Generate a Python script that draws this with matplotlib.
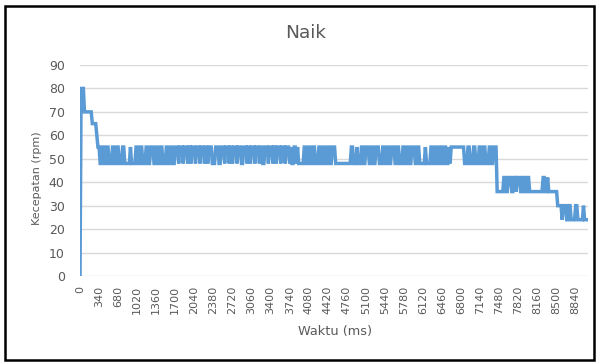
import numpy as np
import matplotlib
matplotlib.use("Agg")
import matplotlib.pyplot as plt
from matplotlib.patches import Rectangle

plt.rcParams['font.family'] = ['DejaVu Sans']

# Speed readings, run-length encoded as (rpm, number of consecutive 20 ms samples)
start_runs = [(0, 1), (80, 3), (70, 7), (65, 4), (60, 1), (55, 2)]

band_55_runs = [
    (48, 2), (55, 2), (48, 2), (55, 2), (48, 3), (55, 2), (48, 2), (55, 2), (48, 3), (55, 2),
    (48, 5), (55, 1), (48, 4),
    (55, 2), (48, 2), (55, 2), (48, 3), (55, 2), (48, 2), (55, 3), (48, 2), (55, 2),
    (48, 2), (55, 2), (48, 3), (55, 2), (48, 2), (55, 2), (48, 2), (55, 3),
    (48, 1), (55, 3), (48, 1), (55, 3), (48, 1), (55, 2), (48, 1), (55, 3),
    (48, 1), (55, 3), (48, 1), (55, 3), (48, 1), (55, 2), (48, 1), (55, 3),
    (48, 3), (55, 3), (48, 2),
    (55, 1), (55, 2), (48, 1), (55, 3), (48, 1), (55, 2), (48, 1), (55, 3),
    (48, 1), (55, 3), (48, 2), (55, 3), (48, 1), (55, 2), (48, 1), (55, 3),
    (48, 1), (55, 3), (48, 1), (55, 2), (48, 2), (55, 3), (48, 1), (55, 3),
    (48, 1), (55, 2), (48, 1), (55, 3), (48, 1), (55, 3), (48, 1), (55, 3),
    (48, 1), (55, 1),
    (48, 2), (55, 2), (48, 1), (55, 1), (48, 5), (55, 2), (48, 2), (55, 2),
    (48, 2), (55, 2), (48, 3), (55, 2), (48, 2), (55, 2), (48, 2), (55, 2),
    (48, 2), (55, 3),
    (48, 14),
    (55, 2), (48, 3), (55, 1), (48, 3), (55, 2), (48, 2), (55, 3), (48, 2),
    (55, 2), (48, 2), (55, 3), (48, 3), (55, 2), (48, 2), (55, 2), (48, 2),
    (55, 3), (48, 2), (55, 2), (48, 3), (55, 2), (48, 2), (55, 2), (48, 2),
    (55, 3), (48, 2), (55, 2),
    (48, 5), (55, 1), (48, 4),
    (55, 2), (48, 2), (55, 2), (48, 2), (55, 2), (48, 2), (55, 2), (48, 2),
    (55, 1), (48, 1),
    (55, 12),
    (48, 3), (55, 2), (48, 3), (55, 2), (48, 3), (55, 2), (48, 2), (55, 2),
    (48, 3), (55, 2), (48, 2), (55, 3),
]

band_42_runs = [
    (36, 6), (42, 2), (36, 2), (42, 3), (36, 2), (42, 2), (36, 1), (42, 3),
    (36, 2), (42, 2), (36, 2), (42, 2), (36, 12), (42, 2), (36, 2), (42, 1),
    (36, 8),
]

band_30_runs = [
    (30, 4), (24, 1), (30, 3), (24, 2), (30, 2), (24, 4), (30, 2), (24, 5),
    (30, 1), (24, 4),
]

step_ms = 20
runs = start_runs + band_55_runs + band_42_runs + band_30_runs
levels = [r[0] for r in runs]
counts = [r[1] for r in runs]
rpm = np.repeat(levels, counts)
time_ms = np.arange(len(rpm)) * step_ms

tick_values = list(range(0, 8841, 340))
tick_labels = [str(v) for v in tick_values]
y_ticks = list(range(0, 91, 10))

W, H = 598, 363
fig = plt.figure(figsize=(W / 100, H / 100), dpi=100)
ax = fig.add_axes([80 / W, 1 - 276 / H, 508 / W, 211 / H])

ax.plot(time_ms, rpm, color='#5B9BD5', linewidth=2.5, solid_joinstyle='miter')

ax.set_xlim(0, time_ms[-1])
ax.set_ylim(0, 90)
ax.set_yticks(y_ticks)
ax.set_xticks(tick_values)
ax.set_xticklabels(tick_labels, rotation=90, va='top', ha='center')
ax.tick_params(axis='both', length=0, colors='#595959')
ax.tick_params(axis='x', pad=7, labelsize=8)
ax.tick_params(axis='y', pad=11, labelsize=9)
ax.grid(axis='y', color='#D9D9D9', linewidth=1)
ax.set_axisbelow(True)
for s in ax.spines.values():
    s.set_visible(False)

text_col = '#595959'
fig.text(306 / W, 1 - 33 / H, 'Naik', ha='center', va='center',
         fontsize=13.3, color=text_col)
fig.text(37.5 / W, 1 - 178 / H, 'Kecepatan (rpm)', ha='center', va='center',
         rotation=90, fontsize=8, color=text_col)
fig.text(335 / W, 1 - 332 / H, 'Waktu (ms)', ha='center', va='center',
         fontsize=9.3, color=text_col)

# black frame around the whole chart
fig.patches.append(Rectangle((5 / W, 1 - 360 / H), 589 / W, 354 / H,
                             transform=fig.transFigure, fill=False,
                             edgecolor='black', linewidth=1.8))

fig.savefig('out.png', dpi=100)
